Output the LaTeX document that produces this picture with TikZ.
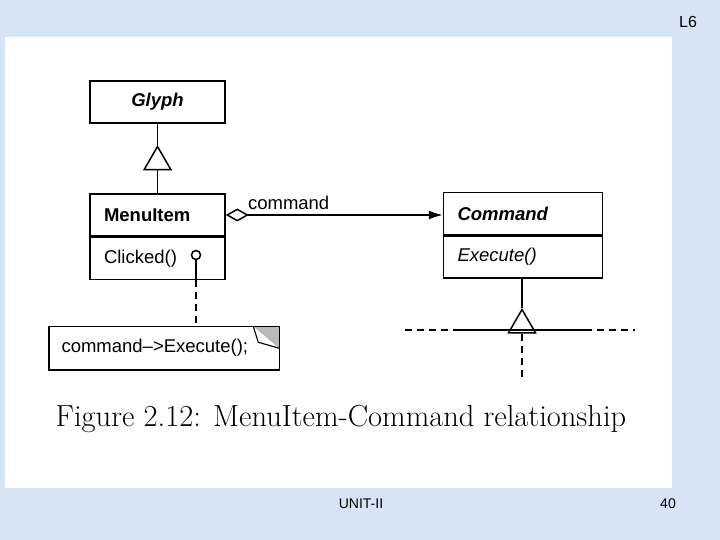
\documentclass[tikz,border=0pt]{standalone}
\usepackage{fontspec}
\setsansfont{Liberation Sans}
\usepackage{tikz}
\usetikzlibrary{positioning,shapes.geometric,arrows.meta}

\definecolor{slidebg}{RGB}{214,228,246}

\begin{document}
\begin{tikzpicture}[x=1pt, y=-1pt, line width=1.5pt,
    every node/.style={font=\sffamily\fontsize{18.5}{22}\selectfont},
    classbox/.style={draw, minimum height=42pt, inner xsep=14pt, text width=107pt, align=left},
    inherit/.style={draw, regular polygon, regular polygon sides=3, minimum size=31pt, inner sep=0pt, anchor=corner 1},
    lolly/.style={draw, circle, minimum size=9pt, inner sep=0pt},
    dashline/.style={dash pattern=on 7pt off 5pt},
    slidetext/.style={font=\sffamily\fontsize{14}{16}\selectfont}
    ]

    % Slide background and white panel
    \useasboundingbox (0,0) rectangle (720,540);
    \fill[slidebg] (0,0) rectangle (720,540);
    \fill[white] (5,37) rectangle (672,488);
    \node[slidetext, font=\sffamily\fontsize{16}{18}\selectfont] (slideno) at (688,22) {L6};
    \node[slidetext] (unit) at (361,504) {UNIT-II};
    \node[slidetext] (page) at (668,504) {40};

    % Classes
    \node[classbox, align=center] (glyph) at (157.5,102) {\textbf{\textit{Glyph}}};
    \node[classbox] (menu) at (157.5,215) {\textbf{MenuItem}};
    \node[classbox, below=0pt of menu] (menuops) {Clicked()};
    \node[classbox, text width=131pt] (cmd) at (523,213.5) {\textbf{\textit{Command}}};
    \node[classbox, text width=131pt, below=0pt of cmd] (cmdops) {\textit{Execute()}};

    % Inheritance MenuItem -> Glyph
    \node[inherit] (tri1) at (157.5,145) {};
    \draw (glyph.south) -- (tri1.corner 1);
    \draw (tri1.side 2) -- (menu.north);

    % Aggregation MenuItem -> Command
    \draw[{Diamond[open, length=23pt, width=13pt]}-{Latex[length=14pt, width=9pt]}]
        (menu.east) -- (menu.east -| cmd.west)
        node[pos=0.29, above=1pt] (role) {command};

    % Implementation note
    \node[lolly] (clicked) at (196,255) {};
    \node[minimum width=229pt, minimum height=42pt, inner xsep=12pt, text width=205pt, align=left] (note) at (164,348) {command-->Execute();};
    \fill[gray!55] ([xshift=-26pt]note.north east) -- (note.north east) -- ([yshift=-22pt]note.north east) -- cycle;
    \draw (note.north west) -- (note.north east) -- (note.south east) -- (note.south west) -- cycle;
    \draw[line width=1.1pt] ([xshift=-26pt]note.north east) -- ([xshift=-21pt, yshift=-16pt]note.north east) -- ([yshift=-22pt]note.north east);
    \draw (clicked.south) -- (clicked |- menuops.south);
    \draw[dashline] (clicked |- menuops.south) -- (clicked |- note.north);

    % Command subclasses
    \node[inherit] (tri2) at (522,308) {};
    \draw (cmdops.south -| tri2.corner 1) -- (tri2.corner 1);
    \coordinate (subleft) at (405,330);
    \coordinate (subright) at (635,330);
    \coordinate (solidleft) at (455,330);
    \coordinate (solidright) at (585,330);
    \coordinate (subdown) at (522,381);
    \draw (solidleft) -- (solidright);
    \draw[dashline] (subleft) -- (solidleft);
    \draw[dashline] (solidright) -- (subright);
    \draw[dashline] (tri2.side 2) -- (subdown);

    % Caption
    \node[font=\rmfamily\fontsize{30.5}{34}\selectfont] (caption) at (341,419) {Figure 2.12: MenuItem-Command relationship};
\end{tikzpicture}
\end{document}
